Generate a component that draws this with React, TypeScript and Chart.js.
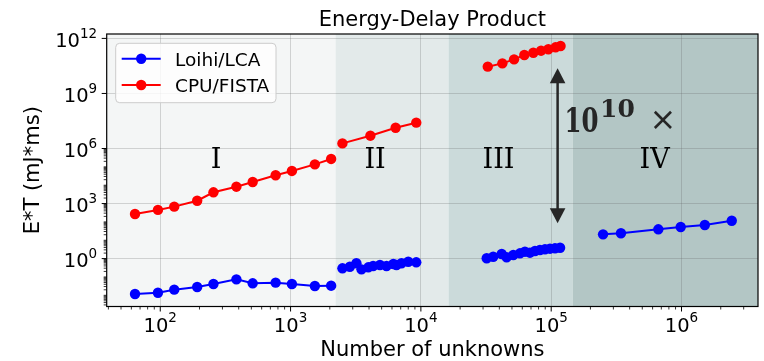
import React, { useEffect, useRef } from "react";
import { Chart, registerables } from "chart.js";
Chart.register(...registerables);

const SANS = "'DejaVu Sans', sans-serif";
const SERIF = "'DejaVu Serif', serif";

// ---- data ----
const seriesNames = ["Loihi/LCA", "CPU/FISTA"];

const loihiX1 = [64, 96, 128, 192, 256, 384, 512, 768, 1024, 1536, 2048];
const loihiY1 = [0.0118, 0.0138, 0.0203, 0.0283, 0.0415, 0.074, 0.045, 0.049, 0.0415, 0.032, 0.0334];
const loihiX2 = [2500, 2850, 3200, 3500, 3950, 4300, 4850, 5450, 6150, 6500, 7100, 8000, 9216];
const loihiY2 = [0.296, 0.362, 0.555, 0.26, 0.335, 0.395, 0.448, 0.395, 0.508, 0.448, 0.555, 0.678, 0.628];
const loihiX3 = [32000, 35900, 41700, 45500, 51200, 57600, 62900, 68700, 75100, 82000, 89600, 97900, 107000, 117000];
const loihiY3 = [1.04, 1.27, 1.78, 1.18, 1.57, 1.94, 2.38, 2.1, 2.6, 2.94, 3.21, 3.47, 3.64, 3.93];
const loihiX4 = [250000, 343000, 664000, 986000, 1510000, 2430000];
const loihiY4 = [21, 24, 39.5, 52.8, 67.6, 116];

const cpuX1 = [64, 96, 128, 192, 256, 384, 512, 768, 1024, 1536, 2048];
const cpuY1 = [270, 450, 680, 1430, 4100, 8300, 15000, 35000, 60000, 137000, 270000];
const cpuX2 = [2500, 4096, 6400, 9216];
const cpuY2 = [1.9e6, 5.0e6, 1.35e7, 2.56e7];
const cpuX3 = [32600, 42200, 51900, 62200, 72900, 83600, 95100, 108000, 118000];
const cpuY3 = [2.88e10, 4.37e10, 7.2e10, 1.25e11, 1.66e11, 2.14e11, 2.57e11, 3.27e11, 3.86e11];

const xMajor = [1e2, 1e3, 1e4, 1e5, 1e6];
const xTickExp = ["2", "3", "4", "5", "6"];
const yMajor = [1e0, 1e3, 1e6, 1e9, 1e12];
const yTickExp = ["0", "3", "6", "9", "12"];

const regionBounds = [2215, 16300, 146000];
const regionLabels = ["I", "II", "III", "IV"];
const regionLabelX = [268, 4450, 39400, 621000];
const regionLabelY = 83500;

const arrowX = 112000;
const arrowYTop = 2.35e10;
const arrowYBottom = 84;

const BLUE = "#0000ff";
const RED = "#ff0000";
const REGION_FILL = ["#f4f6f6", "#e3eaea", "#cbdada", "#b3c6c5"];

function pairs(xs: number[], ys: number[]) {
  return xs.map((x, i) => ({ x, y: ys[i] }));
}

function ds(xs: number[], ys: number[], color: string) {
  return {
    data: pairs(xs, ys),
    borderColor: color,
    backgroundColor: color,
    pointBackgroundColor: color,
    pointBorderColor: color,
    pointBorderWidth: 0,
    pointRadius: 5.2,
    borderWidth: 2,
    tension: 0,
  };
}

const decor = {
  id: "decor",
  beforeDraw(chart: any) {
    const { ctx, chartArea: a, scales } = chart;
    const x = scales.x;
    ctx.save();
    ctx.fillStyle = "#ffffff";
    ctx.fillRect(0, 0, chart.width, chart.height);
    const edges = [a.left, ...regionBounds.map((v) => x.getPixelForValue(v)), a.right];
    REGION_FILL.forEach((c, i) => {
      ctx.fillStyle = c;
      ctx.fillRect(edges[i], a.top, edges[i + 1] - edges[i], a.bottom - a.top);
    });
    ctx.restore();
  },
  afterDraw(chart: any) {
    const { ctx, chartArea: a, scales } = chart;
    const x = scales.x;
    const y = scales.y;
    ctx.save();

    // frame
    ctx.strokeStyle = "#000";
    ctx.lineWidth = 1.2;
    ctx.strokeRect(a.left, a.top, a.right - a.left, a.bottom - a.top);

    // ticks
    ctx.lineWidth = 1;
    ctx.beginPath();
    xMajor.forEach((v) => {
      const px = x.getPixelForValue(v);
      ctx.moveTo(px, a.bottom);
      ctx.lineTo(px, a.bottom + 5);
    });
    yMajor.forEach((v) => {
      const py = y.getPixelForValue(v);
      ctx.moveTo(a.left, py);
      ctx.lineTo(a.left - 5, py);
    });
    ctx.stroke();
    ctx.lineWidth = 0.8;
    ctx.beginPath();
    for (let n = 1; n <= 6; n++) {
      for (let k = 2; k <= 9; k++) {
        const v = k * Math.pow(10, n);
        if (v < x.min || v > x.max) continue;
        const px = x.getPixelForValue(v);
        ctx.moveTo(px, a.bottom);
        ctx.lineTo(px, a.bottom + 3);
      }
    }
    for (let n = -3; n <= 5; n++) {
      for (let k = 1; k <= 9; k++) {
        if (k === 1 && n % 3 === 0) continue;
        const v = k * Math.pow(10, n);
        if (v < y.min || v > y.max) continue;
        const py = y.getPixelForValue(v);
        ctx.moveTo(a.left, py);
        ctx.lineTo(a.left - 3, py);
      }
    }
    ctx.stroke();

    // tick labels
    ctx.fillStyle = "#000";
    ctx.textBaseline = "alphabetic";
    const baseFont = `19.5px ${SANS}`;
    const expFont = `13.5px ${SANS}`;
    xMajor.forEach((v, i) => {
      const px = x.getPixelForValue(v);
      ctx.font = baseFont;
      const wb = ctx.measureText("10").width;
      ctx.font = expFont;
      const we = ctx.measureText(xTickExp[i]).width;
      const start = px - (wb + we) / 2;
      ctx.font = baseFont;
      ctx.textAlign = "left";
      ctx.fillText("10", start, a.bottom + 25);
      ctx.font = expFont;
      ctx.fillText(xTickExp[i], start + wb, a.bottom + 15.5);
    });
    yMajor.forEach((v, i) => {
      const py = y.getPixelForValue(v);
      const right = a.left - 9.5;
      ctx.font = expFont;
      const we = ctx.measureText(yTickExp[i]).width;
      ctx.textAlign = "right";
      ctx.fillText(yTickExp[i], right, py - 0.5);
      ctx.font = baseFont;
      ctx.fillText("10", right - we, py + 8.3);
    });

    // axis titles and title
    ctx.font = `21px ${SANS}`;
    ctx.textAlign = "center";
    const cx = (a.left + a.right) / 2;
    ctx.fillText("Number of unknowns", cx, 356);
    ctx.fillText("Energy-Delay Product", cx, 26);
    ctx.save();
    ctx.translate(34, (a.top + a.bottom) / 2);
    ctx.rotate(-Math.PI / 2);
    ctx.textBaseline = "middle";
    ctx.fillText("E*T (mJ*ms)", 0, 0);
    ctx.restore();

    // region labels
    ctx.font = `27px ${SERIF}`;
    ctx.textAlign = "center";
    ctx.fillStyle = "#000";
    regionLabels.forEach((t, i) => {
      ctx.fillText(t, x.getPixelForValue(regionLabelX[i]), y.getPixelForValue(regionLabelY));
    });

    // arrow
    const ax = x.getPixelForValue(arrowX);
    const yt = y.getPixelForValue(arrowYTop);
    const yb = y.getPixelForValue(arrowYBottom);
    ctx.strokeStyle = "#262626";
    ctx.fillStyle = "#262626";
    ctx.lineWidth = 2.5;
    ctx.beginPath();
    ctx.moveTo(ax, yt + 10);
    ctx.lineTo(ax, yb - 10);
    ctx.stroke();
    ctx.beginPath();
    ctx.moveTo(ax, yt);
    ctx.lineTo(ax - 7.8, yt + 15);
    ctx.lineTo(ax + 7.8, yt + 15);
    ctx.closePath();
    ctx.fill();
    ctx.beginPath();
    ctx.moveTo(ax, yb);
    ctx.lineTo(ax - 7.8, yb - 15);
    ctx.lineTo(ax + 7.8, yb - 15);
    ctx.closePath();
    ctx.fill();

    // annotation 10^10 x
    ctx.textAlign = "left";
    ctx.textBaseline = "alphabetic";
    const tx = ax + 7;
    const tb = 132;
    ctx.font = `bold 34px ${SERIF}`;
    ctx.fillText("10", tx, tb, 34);
    ctx.font = `bold 25px ${SERIF}`;
    ctx.fillText("10", tx + 35.5, tb - 15, 38);
    ctx.font = `32px ${SANS}`;
    ctx.fillText("\u00d7", tx + 85, tb - 2);

    // legend
    const lx = 115.7, ly = 43.3, lw = 160.3, lh = 59.4, r = 4;
    ctx.beginPath();
    ctx.moveTo(lx + r, ly);
    ctx.lineTo(lx + lw - r, ly);
    ctx.quadraticCurveTo(lx + lw, ly, lx + lw, ly + r);
    ctx.lineTo(lx + lw, ly + lh - r);
    ctx.quadraticCurveTo(lx + lw, ly + lh, lx + lw - r, ly + lh);
    ctx.lineTo(lx + r, ly + lh);
    ctx.quadraticCurveTo(lx, ly + lh, lx, ly + lh - r);
    ctx.lineTo(lx, ly + r);
    ctx.quadraticCurveTo(lx, ly, lx + r, ly);
    ctx.closePath();
    ctx.fillStyle = "rgba(255,255,255,0.8)";
    ctx.fill();
    ctx.strokeStyle = "#cccccc";
    ctx.lineWidth = 1;
    ctx.stroke();
    const rows = [58.7, 85];
    const cols = [BLUE, RED];
    rows.forEach((ry, i) => {
      ctx.strokeStyle = cols[i];
      ctx.fillStyle = cols[i];
      ctx.lineWidth = 2;
      ctx.beginPath();
      ctx.moveTo(121.7, ry);
      ctx.lineTo(160.7, ry);
      ctx.stroke();
      ctx.beginPath();
      ctx.arc(141.2, ry, 5.2, 0, Math.PI * 2);
      ctx.fill();
      ctx.fillStyle = "#000";
      ctx.font = `18.5px ${SANS}`;
      ctx.textAlign = "left";
      ctx.fillText(seriesNames[i], 175, ry + 7);
    });

    ctx.restore();
  },
};

export default function App() {
  const ref = useRef<HTMLCanvasElement | null>(null);
  useEffect(() => {
    if (!ref.current) return;
    const chart = new Chart(ref.current, {
      type: "line",
      data: {
        datasets: [
          ds(loihiX1, loihiY1, BLUE),
          ds(loihiX2, loihiY2, BLUE),
          ds(loihiX3, loihiY3, BLUE),
          ds(loihiX4, loihiY4, BLUE),
          ds(cpuX1, cpuY1, RED),
          ds(cpuX2, cpuY2, RED),
          ds(cpuX3, cpuY3, RED),
        ] as any,
      },
      options: {
        responsive: false,
        animation: false,
        devicePixelRatio: 1,
        layout: { padding: { top: 34, right: 6, bottom: 0, left: 0 } },
        plugins: {
          legend: { display: false },
          title: { display: false },
          tooltip: { enabled: false },
        },
        scales: {
          x: {
            type: "logarithmic",
            min: Math.pow(10, 1.589),
            max: Math.pow(10, 6.587),
            afterBuildTicks: (s: any) => {
              s.ticks = xMajor.map((v) => ({ value: v }));
            },
            afterFit: (s: any) => {
              s.height = 54.5;
            },
            ticks: { display: false },
            grid: { color: "rgba(90,90,90,0.24)", lineWidth: 1, drawTicks: false },
            border: { display: false },
          },
          y: {
            type: "logarithmic",
            min: Math.pow(10, -2.61),
            max: Math.pow(10, 12.24),
            afterBuildTicks: (s: any) => {
              s.ticks = yMajor.map((v) => ({ value: v }));
            },
            afterFit: (s: any) => {
              s.width = 106.7;
            },
            ticks: { display: false },
            grid: { color: "rgba(90,90,90,0.24)", lineWidth: 1, drawTicks: false },
            border: { display: false },
          },
        },
      } as any,
      plugins: [decor],
    });
    return () => chart.destroy();
  }, []);
  return (
    <div style={{ position: "fixed", left: 0, top: 0, width: 764, height: 361 }}>
      <canvas ref={ref} width={764} height={361} style={{ display: "block", width: 764, height: 361 }} />
    </div>
  );
}
